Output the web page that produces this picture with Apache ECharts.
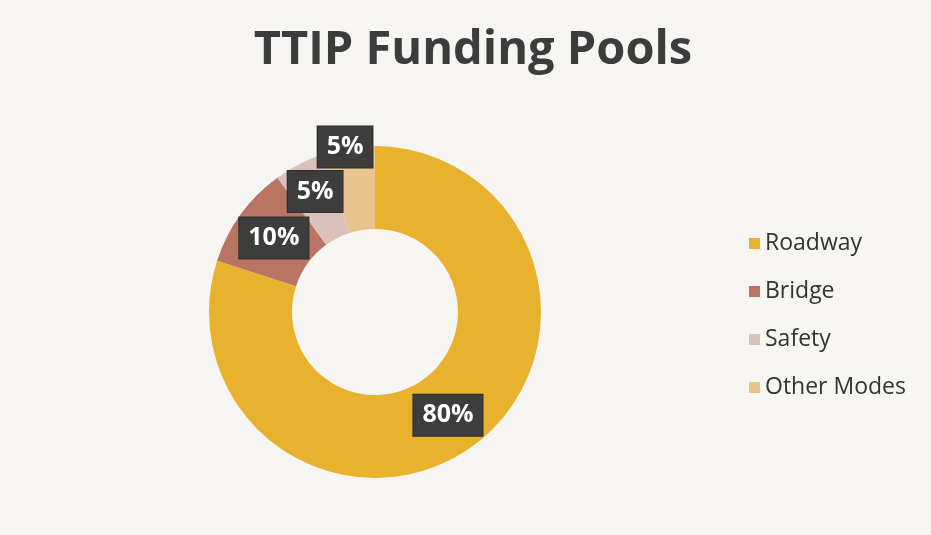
<!DOCTYPE html>
<html>
<head>
<meta charset="utf-8">
<script src="https://cdn.jsdelivr.net/npm/echarts@6/dist/echarts.min.js"></script>
<style>
html,body{margin:0;padding:0;background:#f6f5f2;}
#chart{width:931px;height:535px;}
</style>
</head>
<body>
<div id="chart"></div>
<script>
var categories = ['Roadway', 'Bridge', 'Safety', 'Other Modes'];
var values = [80, 10, 5, 5];
var colors = ['#E9B22E', '#B97462', '#DCC0BA', '#E6C48C'];
var labelOffsets = [[-2, 0], [2, 1], [-2, -7], [-10, -39]];

var chart = echarts.init(document.getElementById('chart'));
var data = categories.map(function (c, i) {
  return {
    name: c,
    value: values[i],
    itemStyle: { color: colors[i] },
    label: { offset: labelOffsets[i] }
  };
});
chart.setOption({
  backgroundColor: '#f6f5f2',
  animation: false,
  title: {
    text: 'TTIP Funding Pools',
    left: 468,
    textAlign: 'center',
    top: 22,
    textStyle: {
      fontFamily: 'Open Sans',
      fontWeight: 'bold',
      fontSize: 47,
      color: '#3c3c3c'
    }
  },
  legend: {
    orient: 'vertical',
    left: 744,
    top: 227,
    itemWidth: 11,
    itemHeight: 11,
    itemGap: 25,
    itemTextGap: 8,
    icon: 'rect',
    data: categories,
    textStyle: {
      fontFamily: 'Open Sans',
      fontSize: 23,
      color: '#333333'
    }
  },
  series: [{
    type: 'pie',
    center: [375, 312],
    radius: [83, 166],
    startAngle: 90,
    clockwise: true,
    avoidLabelOverlap: false,
    labelLayout: { hideOverlap: false },
    data: data,
    label: {
      show: true,
      position: 'inside',
      formatter: function (p) { return p.value + '%'; },
      color: '#ffffff',
      fontFamily: 'Open Sans',
      fontWeight: 'bold',
      fontSize: 25,
      backgroundColor: '#3d3d3b',
      borderColor: '#2e2e2e',
      borderWidth: 1,
      padding: [9, 9, 7, 9]
    },
    labelLine: { show: false },
    emphasis: { disabled: true }
  }]
});
</script>
</body>
</html>
